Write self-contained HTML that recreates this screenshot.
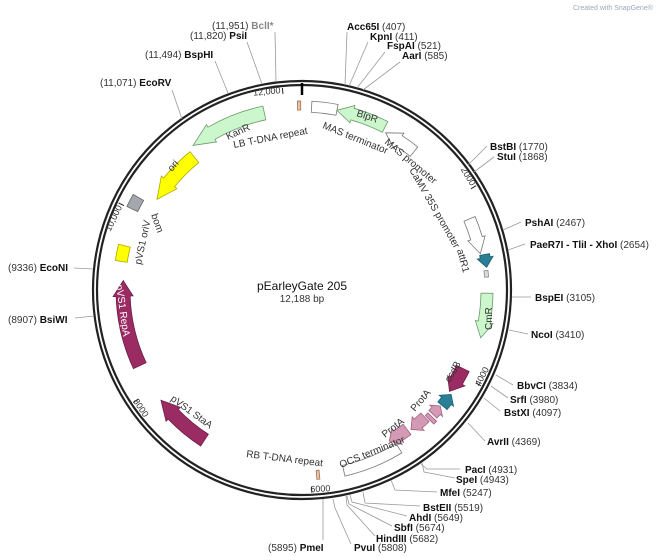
<!DOCTYPE html>
<html><head><meta charset="utf-8"><style>
html,body{margin:0;padding:0;background:#fff;}
svg{display:block;font-family:"Liberation Sans",Verdana,sans-serif;}
.n{font-size:10px;fill:#333;}
.e{font-size:10px;font-weight:bold;fill:#111;}
.f{font-size:10px;fill:#333;}
.l{stroke:#999;stroke-width:0.8;fill:none;}
</style></head><body>
<svg id="s" width="660" height="557" viewBox="0 0 660 557">
<text x="573" y="10" style="font-size:7px;fill:#9ab">Created with SnapGene®</text>
<circle cx="302" cy="290" r="209" fill="none" stroke="#222" stroke-width="2.2"/>
<circle cx="302" cy="290" r="205" fill="none" stroke="#222" stroke-width="2.2"/>
<line x1="302" y1="83" x2="302" y2="95" stroke="#000" stroke-width="2.5"/>
<g id="feat"></g>
<g id="ticks"></g>
<g class="l">
<polyline points="276,82 275,32"/>
<polyline points="262,84 247,42"/>
<polyline points="228,93 215,61"/>
<polyline points="182,119 172,90"/>
<polyline points="345,85 347,32"/>
<polyline points="349,86 368,42"/>
<polyline points="357,88 385,52"/>
<polyline points="363,90 400,62"/>
<polyline points="468,165 487,146"/>
<polyline points="474,172 494,157"/>
<polyline points="503,230 521,222"/>
<polyline points="508,250 525,244"/>
<polyline points="512,297 531,297"/>
<polyline points="509,330 528,334"/>
<polyline points="496,375 513,385"/>
<polyline points="491,386 508,398"/>
<polyline points="484,398 500,411"/>
<polyline points="468,423 485,441"/>
<polyline points="421,464 427,469 460,469"/>
<polyline points="422,463 424,472 455,478"/>
<polyline points="391,480 395,490 437,492"/>
<polyline points="363,492 365,503 420,506"/>
<polyline points="350,495 352,502 407,516"/>
<polyline points="347,496 349,504 392,526"/>
<polyline points="346,496 347,505 375,536"/>
<polyline points="333,499 335,508 351,544"/>
<polyline points="323,499 323,540"/>
<polyline points="93,269 74,268"/>
<polyline points="94,316 75,318"/>
</g>
<text x="212" y="29" class="n">(11,951) <tspan style="font-weight:bold;fill:#888">BclI*</tspan></text>
<text x="190" y="39" class="n">(11,820) <tspan class="e">PsiI</tspan></text>
<text x="145" y="58" class="n">(11,494) <tspan class="e">BspHI</tspan></text>
<text x="100" y="86" class="n">(11,071) <tspan class="e">EcoRV</tspan></text>
<text x="347" y="30" class="n"><tspan class="e">Acc65I</tspan> (407)</text>
<text x="370" y="40" class="n"><tspan class="e">KpnI</tspan> (411)</text>
<text x="387" y="49" class="n"><tspan class="e">FspAI</tspan> (521)</text>
<text x="402" y="59" class="n"><tspan class="e">AarI</tspan> (585)</text>
<text x="490" y="150" class="n"><tspan class="e">BstBI</tspan> (1770)</text>
<text x="497" y="160" class="n"><tspan class="e">StuI</tspan> (1868)</text>
<text x="525" y="226" class="n"><tspan class="e">PshAI</tspan> (2467)</text>
<text x="530" y="248" class="n"><tspan class="e">PaeR7I - TliI - XhoI</tspan> (2654)</text>
<text x="535" y="301" class="n"><tspan class="e">BspEI</tspan> (3105)</text>
<text x="531" y="338" class="n"><tspan class="e">NcoI</tspan> (3410)</text>
<text x="517" y="389" class="n"><tspan class="e">BbvCI</tspan> (3834)</text>
<text x="510" y="403" class="n"><tspan class="e">SrfI</tspan> (3980)</text>
<text x="504" y="416" class="n"><tspan class="e">BstXI</tspan> (4097)</text>
<text x="487" y="445" class="n"><tspan class="e">AvrII</tspan> (4369)</text>
<text x="465" y="473" class="n"><tspan class="e">PacI</tspan> (4931)</text>
<text x="456" y="483" class="n"><tspan class="e">SpeI</tspan> (4943)</text>
<text x="440" y="496" class="n"><tspan class="e">MfeI</tspan> (5247)</text>
<text x="423" y="511" class="n"><tspan class="e">BstEII</tspan> (5519)</text>
<text x="409" y="521" class="n"><tspan class="e">AhdI</tspan> (5649)</text>
<text x="394" y="531" class="n"><tspan class="e">SbfI</tspan> (5674)</text>
<text x="376" y="542" class="n"><tspan class="e">HindIII</tspan> (5682)</text>
<text x="354" y="551" class="n"><tspan class="e">PvuI</tspan> (5808)</text>
<text x="268" y="551" class="n">(5895) <tspan class="e">PmeI</tspan></text>
<text x="8" y="271" class="n">(9336) <tspan class="e">EcoNI</tspan></text>
<text x="8" y="323" class="n">(8907) <tspan class="e">BsiWI</tspan></text>
<text x="302" y="290" text-anchor="middle" style="font-size:12px;fill:#111">pEarleyGate 205</text>
<text x="302" y="302" text-anchor="middle" style="font-size:10px;fill:#333">12,188 bp</text>
<text class="f" transform="translate(228,140) rotate(-25)">KanR</text>
<text class="f" transform="translate(172,172) rotate(-50)">ori</text>
<text class="f" transform="translate(356,116) rotate(18)">BlpR</text>
<text class="f" transform="translate(234,148) rotate(-11)">LB T-DNA repeat</text>
<text class="f" transform="translate(322,128) rotate(22)">MAS terminator</text>
<text class="f" transform="translate(384,143) rotate(40)">MAS promoter</text>
<text class="f" transform="translate(409,170) rotate(60)">CaMV 35S promoter</text>
<text class="f" transform="translate(457,250) rotate(75)">attR1</text>
<text class="f" transform="translate(151,215) rotate(70)">bom</text>
<text class="f" transform="translate(141,265) rotate(-78)">pVS1 oriV</text>
<text class="f" transform="translate(492,330) rotate(-90)">CmR</text>
<text class="f" transform="translate(450,383) rotate(-60)">ccdB</text>
<text class="f" transform="translate(415,412) rotate(-50)">ProtA</text>
<text class="f" transform="translate(385,438) rotate(-38)">ProtA</text>
<text class="f" transform="translate(341,468) rotate(-22)">OCS terminator</text>
<text class="f" transform="translate(246,457) rotate(7)">RB T-DNA repeat</text>
<text class="f" transform="translate(170,400) rotate(36)">pVS1 StaA</text>
<text class="f" transform="translate(116,285) rotate(82)" style="fill:#fff">pVS1 RepA</text>
</svg>
<script>
(function(){
var cx=302,cy=290,NS="http://www.w3.org/2000/svg";
function P(r,a){a=a*Math.PI/180;return [(cx+r*Math.sin(a)).toFixed(2),(cy-r*Math.cos(a)).toFixed(2)];}
function A(r,a,sw){var p=P(r,a);return "A"+r+" "+r+" 0 0 "+sw+" "+p[0]+" "+p[1];}
function M(c,r,a){var p=P(r,a);return c+p[0]+" "+p[1]+" ";}
function feat(a1,a2,r1,r2,dir,fill,stroke,h){
  h=h||5;var rm=(r1+r2)/2,w=3,d;
  if(dir>0){var b=Math.max(a1,a2-h);
    d=M("M",r2,a1)+A(r2,b,1)+M("L",r2+w,b)+M("L",rm,a2)+M("L",r1-w,b)+M("L",r1,b)+A(r1,a1,0)+"Z";}
  else if(dir<0){var b=Math.min(a2,a1+h);
    d=M("M",r2,a2)+A(r2,b,0)+M("L",r2+w,b)+M("L",rm,a1)+M("L",r1-w,b)+M("L",r1,b)+A(r1,a2,1)+"Z";}
  else{d=M("M",r2,a1)+A(r2,a2,1)+M("L",r1,a2)+A(r1,a1,0)+"Z";}
  var e=document.createElementNS(NS,"path");e.setAttribute("d",d);e.setAttribute("fill",fill);
  e.setAttribute("stroke",stroke);e.setAttribute("stroke-width","0.8");
  document.getElementById("feat").appendChild(e);}
var G="#ccf7cc",GS="#6a9a6a",W="#fff",WS="#777",MR="#9b2c63",T="#2a7f96",PK="#d49ab5",Y="#ffff00";
feat(323,348,174,188,-1,G,GS,7);
feat(302,321,164,178,-1,Y,"#aa0",7);
feat(358.6,359.6,180,189,0,"#e8c4a4","#a07050");
feat(3,11,178,189,0,W,WS);
feat(11,27,177,189,-1,G,GS,5);
feat(28,39,172,184,-1,W,WS,5);
feat(67,78.5,176,188,1,W,WS,5);
feat(79,83,181,191,1,T,"#1d5e70",3);
feat(84,86,183,187,0,"#ddd","#888");
feat(91,105,179,191,1,G,GS,5);
feat(116,124.5,172,186,1,MR,"#6d1d45",4);
feat(125,129.5,176,188,-1,T,"#1d5e70",2.5);
feat(130,133.5,175,186,-1,PK,"#a06080",2);
feat(134.3,135.5,176,188,0,PK,"#a06080");
feat(136,142,171,183,1,PK,"#a06080",3);
feat(143,150,168,181,1,PK,"#a06080",3);
feat(148.5,167,180,191,0,W,WS);
feat(174.6,175.5,181,190,0,"#e8c4a4","#a07050");
feat(213,232,172,186,1,MR,"#6d1d45",6);
feat(245,273,172,186,1,MR,"#6d1d45",5);
feat(279,284,177,189,0,Y,"#aa0");
feat(295.5,299.5,182,194,0,"#a4a8ae","#666");
var tg=document.getElementById("ticks");
[2000,4000,6000,8000,10000,12000].forEach(function(v){
  var a=v/12188*360,p1=P(203,a),p2=P(197,a);
  var l=document.createElementNS(NS,"line");
  l.setAttribute("x1",p1[0]);l.setAttribute("y1",p1[1]);l.setAttribute("x2",p2[0]);l.setAttribute("y2",p2[1]);
  l.setAttribute("stroke","#222");l.setAttribute("stroke-width","1");tg.appendChild(l);
  var t=document.createElementNS(NS,"text");
  var lab=v==10000?"10,000":v==12000?"12,000":String(v);
  t.textContent=lab;t.setAttribute("class","n");t.setAttribute("style","font-size:9px;fill:#333");
  var bottom=(a>90&&a<270);
  if(bottom){var q=P(196,a+0.4);t.setAttribute("transform","translate("+q[0]+","+q[1]+") rotate("+(a-180)+")");t.setAttribute("dominant-baseline","hanging");}
  else{var q=P(198,a-0.6);t.setAttribute("transform","translate("+q[0]+","+q[1]+") rotate("+a+")");t.setAttribute("text-anchor","end");}
  tg.appendChild(t);
});
})();
</script>
</body></html>
